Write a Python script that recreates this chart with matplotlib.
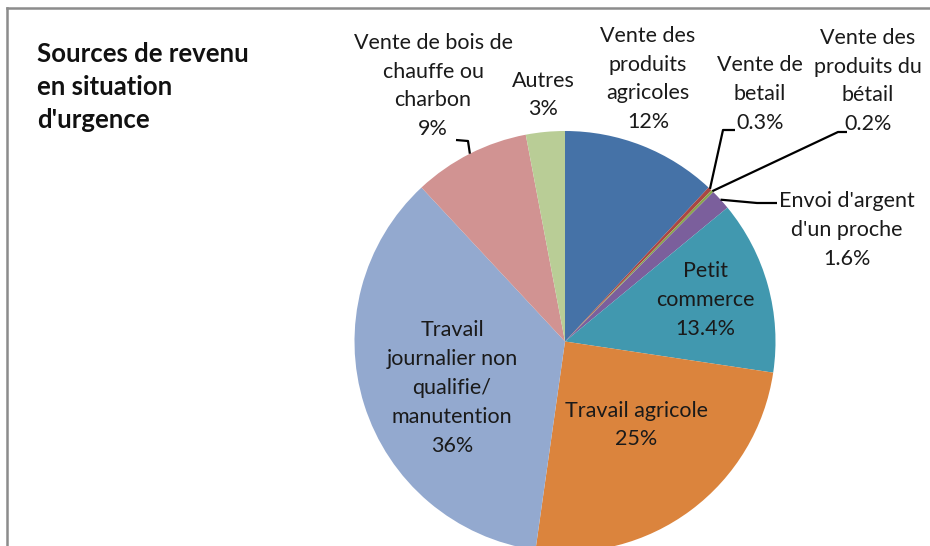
import numpy as np
import matplotlib.pyplot as plt

plt.rcParams['font.family'] = ['Lato', 'DejaVu Sans']

# data
labels = ["Vente des\nproduits\nagricoles", "Vente de\nbetail",
          "Vente des\nproduits du\nbétail", "Envoi d'argent\nd'un proche",
          "Petit\ncommerce", "Travail agricole",
          "Travail\njournalier non\nqualifie/\nmanutention",
          "Vente de bois de\nchauffe ou\ncharbon", "Autres"]
values = [12, 0.3, 0.2, 1.6, 13.4, 25, 36, 9, 3]
pct_text = ["12%", "0.3%", "0.2%", "1.6%", "13.4%", "25%", "36%", "9%", "3%"]
colors = ['#4572A7', '#AA4643', '#89A54E', '#7B5F9C', '#4198AF',
          '#DB843D', '#93A9CF', '#D19392', '#B9CD96']

W, H = 930, 546
fig = plt.figure(figsize=(W / 100, H / 100), dpi=100)
ax = fig.add_axes([0, 0, 1, 1])

cx, cy, r = 565, 341.5, 210.5
# y axis is flipped below, so counterclock=True draws clockwise on screen
wedges, _ = ax.pie(values, colors=colors, startangle=-90, counterclock=True,
                   center=(cx, cy), radius=r,
                   wedgeprops=dict(linewidth=0))
ax.set_xlim(0, W)
ax.set_ylim(H, 0)
ax.set_aspect('equal')
ax.axis('off')

# label block centres (pixels)
label_pos = [(648, 79), (760, 94), (868, 81), (847, 230), (705, 300),
             (636, 425), (452, 388), (433, 86), (543, 95)]
for lab, pct, (x, y) in zip(labels, pct_text, label_pos):
    ax.text(x, y, lab + "\n" + pct, ha='center', va='center',
            multialignment='center', fontsize=15.5, color='#1a1a1a',
            linespacing=1.55)

# leader lines: text end -> elbow -> wedge edge
leaders = {1: [(735, 130), (723, 130)],
           2: [(847, 132), (838, 132)],
           3: [(777, 203), (757, 203)],
           7: [(456, 140), (468, 141)]}
for i, pts in leaders.items():
    w = wedges[i]
    a = np.deg2rad((w.theta1 + w.theta2) / 2)
    ex, ey = cx + r * np.cos(a), cy + r * np.sin(a)
    xs = [p[0] for p in pts] + [ex]
    ys = [p[1] for p in pts] + [ey]
    ax.plot(xs, ys, color='black', lw=1.6, solid_capstyle='butt')

# title
ax.text(37, 87, "Sources de revenu\nen situation\nd'urgence", ha='left',
        va='center', fontsize=18.5, fontweight='bold', color='#111111',
        linespacing=1.45)

# chart frame (top and left edges visible)
ax.plot([7, W], [8, 8], color='#8c8c8c', lw=1.8, clip_on=False)
ax.plot([7, 7], [8, H], color='#8c8c8c', lw=1.8, clip_on=False)

fig.savefig('out.png', dpi=100)
